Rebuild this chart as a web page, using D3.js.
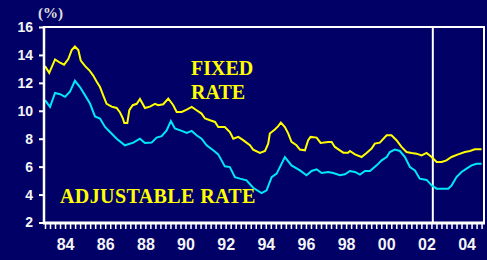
<!DOCTYPE html>
<html>
<head>
<meta charset="utf-8">
<script src="https://cdn.jsdelivr.net/npm/d3@7"></script>
<style>
  html, body { margin: 0; padding: 0; background: #000066; }
  svg { display: block; }
</style>
</head>
<body>
<div id="chart"></div>
<script>
const WIDTH = 487;
const HEIGHT = 260;
const LEFT = 44;
const RIGHT = 484;
const TOP = 27;
const BOTTOM = 223;

const BG = "#000066";
const FIXED_COLOR = "#ffff00";
const ARM_COLOR = "#00e8f8";

// decimal years
const fixedDates = [1983.0, 1983.21, 1983.5, 1983.75, 1983.95, 1984.16, 1984.33, 1984.49, 1984.66, 1984.78,
  1985.0, 1985.21, 1985.41, 1985.57, 1985.74, 1985.9, 1986.07, 1986.32, 1986.57, 1986.73, 1986.88, 1986.95,
  1987.1, 1987.2, 1987.37, 1987.57, 1987.73, 1987.98, 1988.23, 1988.48, 1988.64, 1988.89, 1989.14, 1989.39,
  1989.56, 1989.81, 1990.06, 1990.31, 1990.55, 1990.8, 1990.97, 1991.22, 1991.47, 1991.63, 1991.96, 1992.21,
  1992.38, 1992.63, 1992.87, 1993.21, 1993.37, 1993.71, 1993.96, 1994.12, 1994.2, 1994.45, 1994.62, 1994.75,
  1994.95, 1995.12, 1995.28, 1995.53, 1995.7, 1995.95, 1996.11, 1996.23, 1996.53, 1996.73, 1997.11, 1997.28,
  1997.44, 1997.69, 1997.86, 1998.1, 1998.19, 1998.44, 1998.77, 1999.02, 1999.27, 1999.43, 1999.68, 2000.02,
  2000.26, 2000.51, 2000.76, 2001.01, 2001.26, 2001.51, 2001.76, 2002.01, 2002.26, 2002.51, 2002.76, 2003.0,
  2003.25, 2003.58, 2003.92, 2004.17, 2004.41, 2004.75];
const fixedRates = [13.2, 12.72, 13.68, 13.44, 13.3, 13.7, 14.35, 14.6, 14.35, 13.6,
  13.2, 12.9, 12.5, 12.1, 11.7, 11.1, 10.5, 10.3, 10.2, 9.9, 9.45, 9.13,
  9.13, 10.04, 10.4, 10.5, 10.85, 10.2, 10.3, 10.5, 10.4, 10.47, 10.88, 10.4,
  9.92, 9.92, 10.09, 10.28, 10.04, 9.8, 9.45, 9.32, 9.2, 8.84, 8.84, 8.48,
  8.0, 8.13, 7.9, 7.53, 7.22, 6.98, 7.12, 7.65, 8.37, 8.66, 8.9, 9.16,
  8.84, 8.37, 7.77, 7.53, 7.22, 7.17, 7.89, 8.13, 8.08, 7.7, 7.77, 7.77,
  7.41, 7.17, 7.0, 7.0, 7.12, 6.88, 6.69, 6.98, 7.29, 7.65, 7.72, 8.25,
  8.25, 7.89, 7.41, 7.05, 6.98, 6.93, 6.81, 6.98, 6.69, 6.33, 6.33, 6.45,
  6.69, 6.88, 7.05, 7.12, 7.24, 7.24];

const armDates = [1983.0, 1983.25, 1983.5, 1983.75, 1984.0, 1984.24, 1984.49, 1984.74, 1984.99, 1985.24,
  1985.49, 1985.74, 1985.99, 1986.24, 1986.57, 1986.98, 1987.4, 1987.73, 1987.98, 1988.31, 1988.56, 1988.81,
  1989.06, 1989.27, 1989.47, 1989.81, 1990.06, 1990.31, 1990.55, 1990.8, 1991.05, 1991.38, 1991.63, 1991.96,
  1992.21, 1992.46, 1992.71, 1993.04, 1993.37, 1993.79, 1994.04, 1994.29, 1994.54, 1994.95, 1995.28, 1995.7,
  1996.03, 1996.28, 1996.53, 1996.78, 1997.11, 1997.36, 1997.69, 1997.94, 1998.19, 1998.44, 1998.69, 1998.94,
  1999.19, 1999.52, 1999.77, 2000.02, 2000.18, 2000.43, 2000.68, 2000.93, 2001.18, 2001.43, 2001.67, 2002.01,
  2002.26, 2002.51, 2003.09, 2003.26, 2003.5, 2003.75, 2004.0, 2004.25, 2004.5, 2004.75];
const armRates = [10.76, 10.28, 11.28, 11.19, 11.0, 11.36, 12.15, 11.7, 11.12, 10.52,
  9.6, 9.45, 8.84, 8.48, 8.0, 7.53, 7.72, 8.0, 7.7, 7.72, 8.08, 8.18,
  8.6, 9.27, 8.73, 8.56, 8.42, 8.56, 8.25, 8.0, 7.53, 7.17, 6.88, 6.02,
  5.97, 5.25, 5.14, 5.02, 4.49, 4.1, 4.3, 5.25, 5.5, 6.69, 6.09, 5.73,
  5.38, 5.69, 5.81, 5.54, 5.62, 5.54, 5.38, 5.45, 5.69, 5.62, 5.43, 5.69,
  5.69, 6.09, 6.45, 6.69, 7.05, 7.22, 7.12, 6.69, 5.97, 5.73, 5.14, 5.05,
  4.66, 4.42, 4.42, 4.66, 5.25, 5.62, 5.86, 6.09, 6.21, 6.21];

const yTicks = [2, 4, 6, 8, 10, 12, 14, 16];
const yearLabels = [1984, 1986, 1988, 1990, 1992, 1994, 1996, 1998, 2000, 2002, 2004];
const markerDate = 2002.32;

const svg = d3.select("#chart")
  .append("svg")
  .attr("width", WIDTH)
  .attr("height", HEIGHT)
  .style("background", BG);

const x = d3.scaleLinear().domain([1982.95, 2004.87]).range([LEFT, RIGHT]);
const y = d3.scaleLinear().domain([2, 16]).range([BOTTOM - 0.5, TOP]);

// frame: top and right edges
svg.append("path")
  .attr("d", `M${LEFT},${TOP} H${RIGHT} V${BOTTOM}`)
  .attr("fill", "none")
  .attr("stroke", "#ffffff")
  .attr("stroke-width", 2);

// vertical marker
svg.append("line")
  .attr("x1", x(markerDate)).attr("x2", x(markerDate))
  .attr("y1", TOP).attr("y2", BOTTOM)
  .attr("stroke", "#ffffff")
  .attr("stroke-width", 2);

// lines
const line = d3.line().x(d => x(d[0])).y(d => y(d[1]));
const fixedData = fixedDates.map((d, i) => [d, fixedRates[i]]);
const armData = armDates.map((d, i) => [d, armRates[i]]);

svg.append("path").datum(armData)
  .attr("d", line)
  .attr("fill", "none")
  .attr("stroke", ARM_COLOR)
  .attr("stroke-width", 2);

svg.append("path").datum(fixedData)
  .attr("d", line)
  .attr("fill", "none")
  .attr("stroke", FIXED_COLOR)
  .attr("stroke-width", 2);

// y axis
const yAxis = svg.append("g")
  .attr("transform", `translate(${LEFT},0)`)
  .call(d3.axisLeft(y).tickValues(yTicks).tickSize(5).tickPadding(6));
yAxis.select(".domain").attr("stroke", "#ffffff").attr("stroke-width", 2.5)
  .attr("d", `M0,${TOP - 1}V${BOTTOM + 1}`);
yAxis.selectAll(".tick line").attr("stroke", "#ffffff").attr("stroke-width", 2);
yAxis.selectAll(".tick text")
  .attr("fill", "#f4f4f4")
  .style("font-family", "'Liberation Sans', Arial, sans-serif")
  .style("font-weight", "bold")
  .style("font-size", "14px");

// x axis: quarterly ticks
const quarters = d3.range(1983, 2004.9, 0.25);
const xAxis = svg.append("g")
  .attr("transform", `translate(0,${BOTTOM})`)
  .call(d3.axisBottom(x).tickValues(quarters).tickSize(6).tickFormat(""));
xAxis.select(".domain").attr("stroke", "#ffffff").attr("stroke-width", 3)
  .attr("d", `M${LEFT - 1},0H${RIGHT + 1}`);
xAxis.selectAll(".tick line").attr("stroke", "#ffffff").attr("stroke-width", 1.5);

const xLabels = svg.append("g")
  .attr("transform", `translate(0,${BOTTOM})`)
  .call(d3.axisBottom(x).tickValues(yearLabels).tickSize(0).tickPadding(16)
    .tickFormat(d => String(d % 100).padStart(2, "0")));
xLabels.select(".domain").remove();
xLabels.selectAll(".tick text")
  .attr("fill", "#f4f4f4")
  .style("font-family", "'Liberation Sans', Arial, sans-serif")
  .style("font-weight", "bold")
  .style("font-size", "16px");

// unit label
svg.append("text")
  .attr("x", 38).attr("y", 18)
  .attr("fill", "#e0e0e0")
  .style("font-family", "'Liberation Serif', 'Times New Roman', serif")
  .style("font-weight", "bold")
  .style("font-size", "15px")
  .text("(%)");

// series labels
const labelStyle = sel => sel
  .attr("fill", FIXED_COLOR)
  .style("font-family", "'Liberation Serif', 'Times New Roman', serif")
  .style("font-weight", "bold")
  .style("font-size", "20px");

svg.append("text").attr("x", 191).attr("y", 75).call(labelStyle).text("FIXED");
svg.append("text").attr("x", 191).attr("y", 99).call(labelStyle).text("RATE");
svg.append("text").attr("x", 60).attr("y", 203).call(labelStyle)
  .style("letter-spacing", "0.4px").text("ADJUSTABLE RATE");
</script>
</body>
</html>
